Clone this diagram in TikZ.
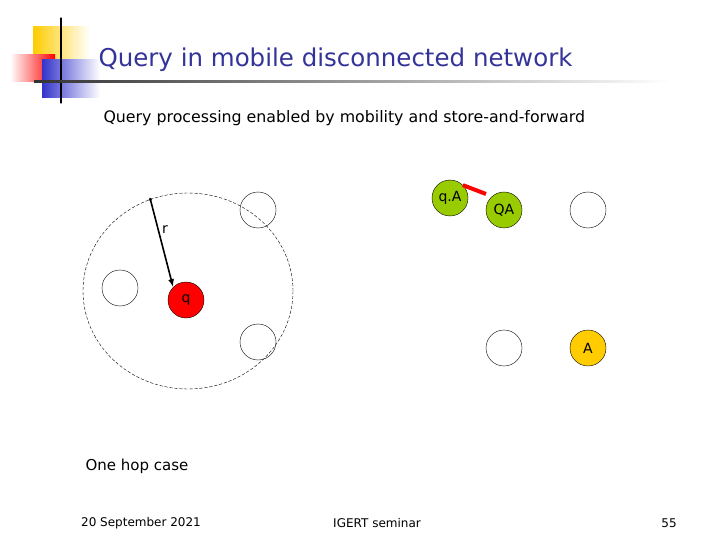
\documentclass[tikz,border=0pt]{standalone}
\usepackage{fontspec}
\setmainfont{DejaVu Sans}
\usetikzlibrary{arrows.meta,calc}
\definecolor{hostgreen}{rgb}{0.6,0.8,0.0}
\definecolor{hostgold}{rgb}{1,0.8,0}
\definecolor{titleblue}{rgb}{0.2,0.2,0.6}
\definecolor{logoblue}{rgb}{0.2,0.2,0.8}

\begin{document}
\begin{tikzpicture}[line cap=round,line join=round,x=1pt,y=-1pt,
  host/.style={circle,draw,thin,minimum size=36pt,inner sep=0pt,font=\fontsize{14}{14}\selectfont}]
\useasboundingbox (0,0) rectangle (720,540);
% logo
\shade[left color=hostgold,right color=white] (33,27) rectangle (90,72);
\shade[left color=white,right color=red] (10,55) rectangle (55,82);
\shade[left color=logoblue,right color=white] (42,60) rectangle (100,98);
\draw[line width=1.2pt] (61,18) -- (61,103);
\shade[left color=black!80,right color=white] (34,81) rectangle (670,83);
\node[anchor=west,text=titleblue,font=\fontsize{24.5}{24.5}\selectfont] (title) at (95,60) {Query in mobile disconnected network};
\node[anchor=west,font=\fontsize{15.8}{15.8}\selectfont] (sub) at (100,118) {Query processing enabled by mobility and store-and-forward};
% range of q
\draw[densely dashed,thin] (188,291) ellipse (105 and 98);
\node[host] (h1) at (120,288) {};
\node[host] (h2) at (258,210) {};
\node[host] (h3) at (258,342) {};
\node[host,fill=red] (q) at (186,300) {q};
\coordinate (rim) at (150,198);
\draw[{Circle[length=3pt]}-{Latex[length=8pt]},line width=1.6pt] (rim) -- (q.north west) node[pos=0.35,right,font=\fontsize{14}{14}\selectfont] (r) {r};
% other hosts
\node[host,fill=hostgreen] (qa) at (450,198) {q.A};
\node[host,fill=hostgreen] (QA) at (504,210) {QA};
\node[host] (h4) at (588,210) {};
\node[host] (h5) at (504,348) {};
\node[host,fill=hostgold] (a) at (588,348) {A};
\coordinate (link) at (486,194);
\draw[red,line width=4pt,line cap=butt] (qa.north east) -- (link);
% footer
\node[anchor=west,font=\fontsize{15}{15}\selectfont] (case) at (82,466) {One hop case};
\node[font=\fontsize{12}{12}\selectfont] (date) at (141,523) {20 September 2021};
\node[font=\fontsize{12}{12}\selectfont] (event) at (377,523) {IGERT seminar};
\node[font=\fontsize{12}{12}\selectfont] (page) at (669,523) {55};
\end{tikzpicture}
\end{document}
